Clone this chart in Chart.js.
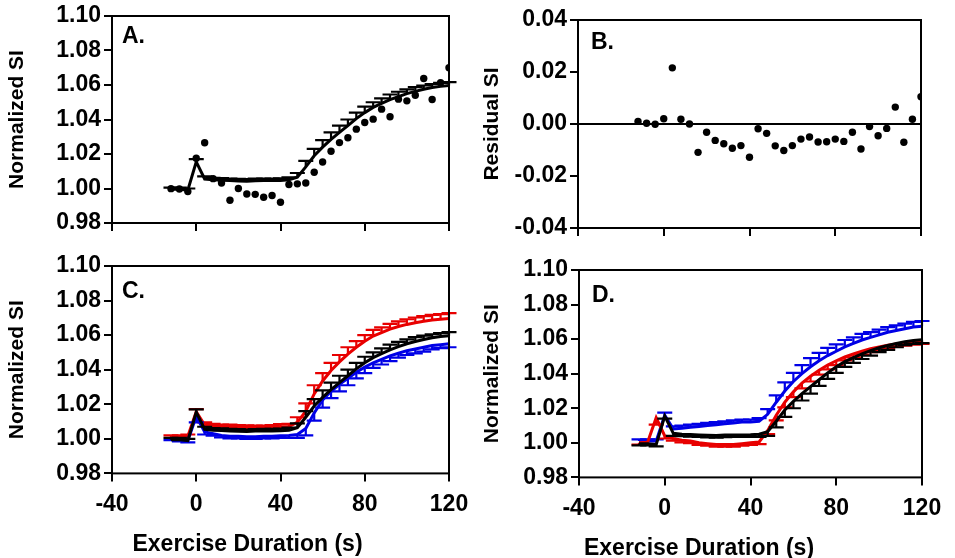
<!DOCTYPE html>
<html><head><meta charset="utf-8">
<script src="https://cdn.jsdelivr.net/npm/chart.js@4.4.1/dist/chart.umd.min.js"></script>
<style>
html,body{margin:0;padding:0;background:#fff;overflow:hidden;width:955px;height:558px;}
canvas{position:absolute;}
</style></head><body>
<canvas id="cA"></canvas>
<canvas id="cB"></canvas>
<canvas id="cC"></canvas>
<canvas id="cD"></canvas>
<script>
// ---------- data ----------
const T = [-12,-8,-4,0,4,8,12,16,20,24,28,32,36,40,44,48,52,56,60,64,68,72,76,80,84,88,92,96,100,104,108,112,116,120];
const xTicks = [-40,0,40,80,120];
const yTicksSI = [0.98,1.00,1.02,1.04,1.06,1.08,1.10];
const yTicksRes = [-0.04,-0.02,0.00,0.02,0.04];

const blackMean = [0.9995,0.9995,0.999,1.0155,1.0055,1.005,1.0048,1.0046,1.0044,1.0042,1.0045,1.0046,1.0046,1.0047,1.005,1.0065,1.0125,1.019,1.024,1.0285,1.0325,1.0365,1.0405,1.044,1.047,1.0493,1.0515,1.0533,1.055,1.0563,1.0575,1.0585,1.0592,1.0597];
const blackSE = [0.001,0.001,0.001,0.0015,0.0015,0.0012,0.0012,0.0012,0.0012,0.0012,0.0012,0.0012,0.0012,0.0012,0.0015,0.0025,0.0035,0.004,0.004,0.004,0.004,0.0035,0.0035,0.0035,0.003,0.003,0.003,0.0028,0.0025,0.0025,0.0022,0.002,0.002,0.002];
const subjectA = [0.9999,0.9997,0.9982,1.0175,1.0265,1.0057,1.0032,0.9932,1.0000,0.9968,0.9966,0.9949,0.9959,0.9920,1.0023,1.0027,1.0032,1.0094,1.0154,1.0216,1.0266,1.0294,1.0344,1.0383,1.0402,1.0460,1.0416,1.0518,1.0508,1.0541,1.0638,1.0516,1.0613,1.0700];
const residualB = [0.001,0.0003,-0.0001,0.002,0.0216,0.0018,0.0,-0.0109,-0.0032,-0.0063,-0.0076,-0.0093,-0.0083,-0.0128,-0.0018,-0.0036,-0.0084,-0.0102,-0.0083,-0.0058,-0.005,-0.0069,-0.0068,-0.0058,-0.0067,-0.0032,-0.0096,-0.001,-0.0045,-0.0017,0.0065,-0.007,0.0018,0.0105];
const redC = [1.001,1.001,1.0015,1.0157,1.008,1.0075,1.007,1.007,1.0068,1.0066,1.0065,1.0065,1.0067,1.007,1.0072,1.0095,1.016,1.026,1.0335,1.0395,1.0445,1.049,1.053,1.0565,1.0595,1.0615,1.0635,1.065,1.0662,1.0672,1.068,1.0687,1.0692,1.0697];
const redCSE = [0.001,0.001,0.001,0.0015,0.0015,0.0012,0.0012,0.0012,0.0012,0.0012,0.0012,0.0012,0.0012,0.0015,0.0015,0.003,0.0045,0.005,0.0045,0.0045,0.004,0.004,0.0035,0.0035,0.0035,0.003,0.003,0.003,0.003,0.003,0.003,0.003,0.003,0.003];
const blueC = [1.0002,0.9995,0.999,1.013,1.004,1.003,1.002,1.0015,1.0015,1.0012,1.0012,1.0015,1.0015,1.0018,1.002,1.0025,1.006,1.015,1.0225,1.0275,1.0315,1.035,1.0385,1.0415,1.044,1.046,1.048,1.0495,1.051,1.052,1.053,1.054,1.0545,1.055];
const blueCSE = [0.001,0.001,0.001,0.0035,0.0015,0.0012,0.0012,0.0012,0.0012,0.0012,0.0012,0.0012,0.0012,0.0012,0.0015,0.002,0.004,0.0045,0.0045,0.004,0.004,0.004,0.0035,0.0035,0.003,0.003,0.003,0.0025,0.0025,0.0025,0.0025,0.0022,0.002,0.002];
const redD = [1.000,1.0003,1.0145,1.004,1.0025,1.0015,1.001,1.0,0.9995,0.999,0.999,0.999,0.9995,1.0,1.0005,1.007,1.016,1.0235,1.0295,1.0345,1.0385,1.042,1.045,1.0475,1.0497,1.0515,1.053,1.0545,1.0555,1.0565,1.0572,1.0578,1.0583,1.0588];
const redDSE = [0.001,0.001,0.004,0.0015,0.0012,0.0012,0.0012,0.0012,0.0012,0.0012,0.0012,0.0012,0.0012,0.0012,0.0012,0.002,0.003,0.003,0.003,0.003,0.003,0.0025,0.0025,0.0025,0.002,0.002,0.002,0.002,0.0018,0.0018,0.0015,0.0015,0.0015,0.0015];
const blueD = [1.001,1.001,1.001,1.016,1.008,1.0085,1.009,1.0095,1.01,1.0105,1.011,1.0115,1.012,1.012,1.0125,1.0165,1.0235,1.03,1.0355,1.04,1.044,1.0475,1.0505,1.053,1.0555,1.0575,1.0595,1.061,1.0625,1.064,1.065,1.066,1.067,1.0675];
const blueDSE = [0.001,0.001,0.001,0.0015,0.0015,0.0015,0.0015,0.0015,0.0015,0.0015,0.0015,0.0015,0.0015,0.0015,0.0018,0.003,0.004,0.005,0.005,0.005,0.005,0.0045,0.0045,0.004,0.004,0.0035,0.0035,0.003,0.003,0.003,0.003,0.003,0.003,0.003];

// ---------- styling ----------
const BLACK = '#000000', RED = 'rgb(232,0,0)', BLUE = 'rgb(0,0,230)';
const FONT = '"Liberation Sans", Arial, Helvetica, sans-serif';
Chart.defaults.font.family = FONT;
Chart.defaults.font.weight = 'bold';
Chart.defaults.font.size = 23;
Chart.defaults.color = '#000';

const pts = (vals) => T.map((t, i) => ({x: t, y: vals[i]}));
function lineDS(vals, errs, dir, color) {
  return {type: 'scatter', data: pts(vals), showLine: true, borderColor: color, backgroundColor: color,
    borderWidth: 3, pointRadius: 0, tension: 0, errs: errs, errDir: dir};
}
function dotDS(vals) {
  return {type: 'scatter', data: pts(vals), showLine: false, borderColor: BLACK, backgroundColor: BLACK,
    pointRadius: 3.7, borderWidth: 0};
}

const panelPlugin = {
  id: 'panel',
  afterDatasetDraw(chart, args) {
    const ds = chart.data.datasets[args.index];
    if (!ds.errs) return;
    const xs = chart.scales.x, ys = chart.scales.y, ctx = chart.ctx;
    ctx.save();
    ctx.strokeStyle = ds.borderColor; ctx.lineWidth = 2.2;
    ds.data.forEach((p, i) => {
      const e = ds.errs[i];
      const px = xs.getPixelForValue(p.x);
      const y0 = ys.getPixelForValue(p.y);
      const y1 = ys.getPixelForValue(p.y + ds.errDir * e);
      ctx.beginPath();
      ctx.moveTo(px, y0); ctx.lineTo(px, y1);
      ctx.moveTo(px - 7.5, y1); ctx.lineTo(px + 7.5, y1);
      ctx.stroke();
    });
    ctx.restore();
  },
  afterDraw(chart, args, opts) {
    const {left, top, right, bottom} = chart.chartArea;
    const ctx = chart.ctx;
    ctx.save();
    ctx.strokeStyle = '#000'; ctx.lineWidth = 2;
    ctx.strokeRect(left, top, right - left, bottom - top);
    ctx.fillStyle = '#000';
    ctx.font = 'bold 23px ' + FONT;
    ctx.textBaseline = 'middle'; ctx.textAlign = 'left';
    ctx.fillText(opts.letter, left + opts.dx, top + opts.dy);
    ctx.restore();
  }
};

function makePanel(cfg) {
  const cv = document.getElementById(cfg.id);
  cv.width = cfg.w; cv.height = cfg.h;
  cv.style.left = cfg.left + 'px'; cv.style.top = cfg.top + 'px';
  cv.style.width = cfg.w + 'px'; cv.style.height = cfg.h + 'px';
  const isRes = !!cfg.residual;
  new Chart(cv, {
    type: 'scatter',
    data: {datasets: cfg.datasets},
    plugins: [panelPlugin],
    options: {
      responsive: false, animation: false, devicePixelRatio: 1,
      layout: {padding: cfg.pad},
      plugins: {
        legend: {display: false}, tooltip: {enabled: false},
        title: cfg.xTitle ? {display: true, text: cfg.xTitle, position: 'bottom', align: 'center',
          font: {size: 23, weight: 'bold'}, color: '#000', padding: {top: 0, bottom: 0}} : {display: false},
        panel: {letter: cfg.letter, dx: cfg.ldx, dy: cfg.ldy}
      },
      scales: {
        x: {
          type: 'linear', position: 'bottom', min: -40, max: 120,
          afterBuildTicks: s => { s.ticks = xTicks.map(v => ({value: v})); },
          afterFit: s => { s.height = cfg.xH; s.paddingLeft = 0; s.paddingRight = 0; },
          ticks: {display: cfg.xLabels, padding: 9, maxRotation: 0, autoSkip: false, font: {size: 23, weight: 'bold'}},
          grid: {display: true, drawOnChartArea: false, drawTicks: true, tickLength: 8, tickColor: '#000', tickWidth: 2, lineWidth: 2, color: '#000'},
          border: {display: false}
        },
        y: {
          type: 'linear', position: 'left', min: cfg.ymin, max: cfg.ymax,
          afterBuildTicks: s => { s.ticks = cfg.yTicks.map(v => ({value: v})); },
          afterFit: s => { s.width = cfg.yW; s.paddingTop = 0; s.paddingBottom = 0; },
          ticks: {padding: 3, font: {size: 23, weight: 'bold'}, callback: v => Number(v).toFixed(2)},
          grid: {display: true, drawOnChartArea: isRes, drawTicks: true, tickLength: 8, tickColor: '#000', tickWidth: 2,
            lineWidth: 2, color: c => (isRes && c.tick && Math.abs(c.tick.value) < 1e-9) ? '#000' : 'rgba(0,0,0,0)'},
          border: {display: false},
          title: {display: true, text: cfg.yTitle, font: {size: 21, weight: 'bold'}, color: '#000', padding: {top: cfg.yTitlePad, bottom: 0}}
        },
        yR: {
          type: 'linear', position: 'right', display: true,
          ticks: {display: false}, grid: {display: false}, border: {display: false},
          afterFit: s => { s.width = cfg.rW; }
        }
      }
    }
  });
}

makePanel({id: 'cA', left: 0, top: 0, w: 470, h: 240, pad: {top: 16, left: 0, right: 0, bottom: 0},
  yW: 112, rW: 21, xH: 17, yTitlePad: 4.4, xLabels: false, ymin: 0.98, ymax: 1.10, yTicks: yTicksSI,
  yTitle: 'Normalized SI', letter: 'A.', ldx: 10, ldy: 21,
  datasets: [lineDS(blackMean, blackSE, 1, BLACK), dotDS(subjectA)]});

makePanel({id: 'cB', left: 470, top: 0, w: 485, h: 240, pad: {top: 20, left: 0, right: 0, bottom: 0},
  yW: 108, rW: 34, xH: 12, yTitlePad: 9.4, xLabels: false, ymin: -0.04, ymax: 0.04, yTicks: yTicksRes,
  yTitle: 'Residual SI', letter: 'B.', ldx: 13, ldy: 23, residual: true,
  datasets: [dotDS(residualB)]});

makePanel({id: 'cC', left: 0, top: 240, w: 495, h: 318, pad: {top: 26, left: 0, right: 0, bottom: 0},
  yW: 112, rW: 46, xH: 57, yTitlePad: 4.4, xLabels: true, ymin: 0.98, ymax: 1.10, yTicks: yTicksSI,
  yTitle: 'Normalized SI', xTitle: 'Exercise Duration (s)', letter: 'C.', ldx: 10, ldy: 26,
  datasets: [lineDS(blackMean, blackSE, 1, BLACK), lineDS(blueC, blueCSE, -1, BLUE), lineDS(redC, redCSE, 1, RED)]});

makePanel({id: 'cD', left: 460, top: 240, w: 495, h: 322, pad: {top: 30, left: 0, right: 17, bottom: 0},
  yW: 119, rW: 16, xH: 57, yTitlePad: 19.4, xLabels: true, ymin: 0.98, ymax: 1.10, yTicks: yTicksSI,
  yTitle: 'Normalized SI', xTitle: 'Exercise Duration (s)', letter: 'D.', ldx: 13, ldy: 26,
  datasets: [lineDS(blackMean, blackSE, -1, BLACK), lineDS(redD, redDSE, -1, RED), lineDS(blueD, blueDSE, 1, BLUE)]});
</script>
</body></html>
